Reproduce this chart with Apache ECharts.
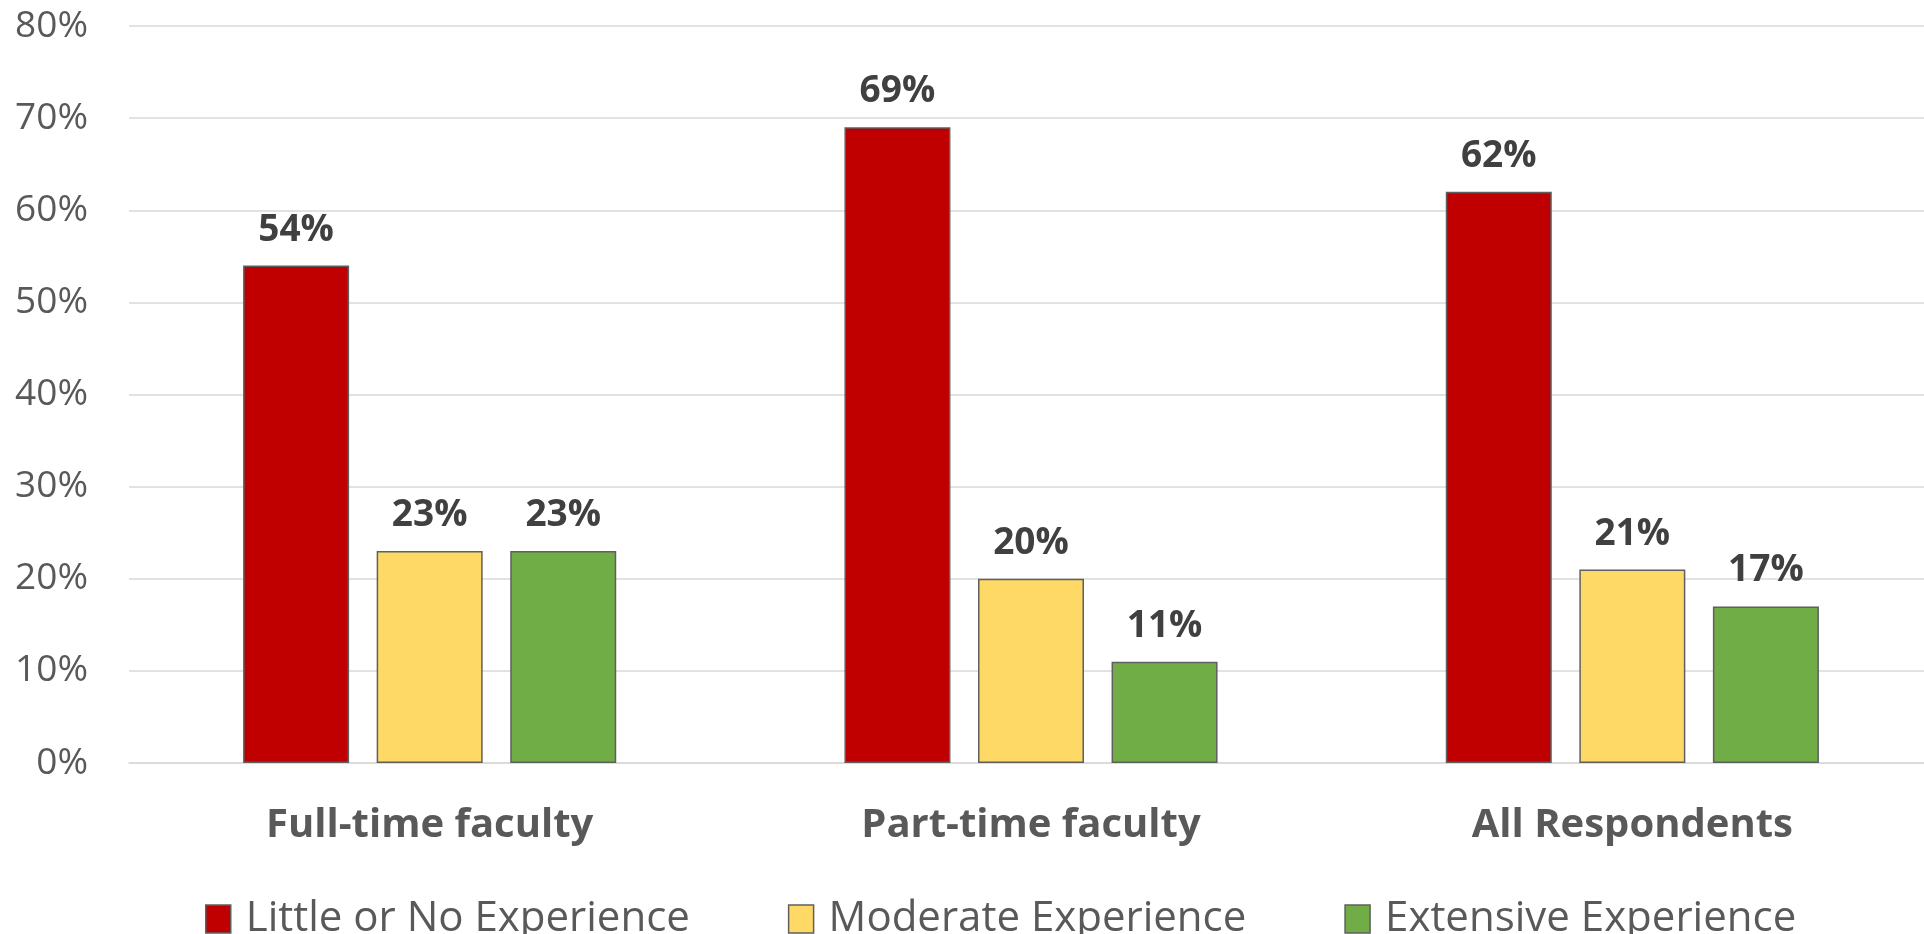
<!DOCTYPE html>
<html>
<head>
<meta charset="utf-8">
<script src="https://cdn.jsdelivr.net/npm/echarts@6/dist/echarts.min.js"></script>
<style>
  html, body { margin: 0; padding: 0; background: #fff; }
  #chart { width: 1924px; height: 934px; }
</style>
</head>
<body>
<div id="chart"></div>
<script>
var categories = ['Full-time faculty', 'Part-time faculty', 'All Respondents'];
var seriesNames = ['Little or No Experience', 'Moderate Experience', 'Extensive Experience'];
var littleData = [54, 69, 62];
var moderateData = [23, 20, 21];
var extensiveData = [23, 11, 17];
var colors = ['#C00000', '#FFD966', '#70AD47'];

var fontFamily = '"Open Sans", Lato, "Noto Sans", sans-serif';

function makeSeries(name, data, color) {
    return {
        name: name,
        type: 'bar',
        barWidth: 106,
        barGap: '26%',
        data: data,
        itemStyle: {
            color: color,
            borderColor: '#5f5f5f',
            borderWidth: 1.5
        },
        label: {
            show: true,
            position: 'top',
            distance: 17,
            formatter: '{c}%',
            color: '#404040',
            fontFamily: fontFamily,
            fontWeight: 'bold',
            fontSize: 37
        }
    };
}

var option = {
    backgroundColor: '#fff',
    animation: false,
    grid: {
        left: 129,
        width: 1804,
        top: 26,
        bottom: 171,
        outerBoundsMode: 'none'
    },
    legend: {
        data: seriesNames,
        left: 200,
        top: 893,
        itemWidth: 25,
        itemHeight: 28,
        itemGap: 98,
        icon: 'rect',
        itemStyle: { borderColor: '#5f5f5f', borderWidth: 1.5 },
        textStyle: {
            color: '#595959',
            fontFamily: fontFamily,
            fontSize: 42,
            padding: [0, 0, 0, 10]
        }
    },
    xAxis: {
        type: 'category',
        data: categories,
        axisLine: { show: true, lineStyle: { color: '#d9d9d9', width: 1.5 } },
        axisTick: { show: false },
        axisLabel: {
            margin: 43,
            color: '#595959',
            fontFamily: fontFamily,
            fontWeight: 'bold',
            fontSize: 40
        }
    },
    yAxis: {
        type: 'value',
        min: 0,
        max: 80,
        interval: 10,
        axisLine: { show: false },
        axisTick: { show: false },
        splitLine: { lineStyle: { color: '#d9d9d9', width: 1.5 } },
        axisLabel: {
            margin: 41,
            formatter: '{value}%',
            color: '#595959',
            fontFamily: fontFamily,
            fontSize: 37
        }
    },
    series: [
        makeSeries(seriesNames[0], littleData, colors[0]),
        makeSeries(seriesNames[1], moderateData, colors[1]),
        makeSeries(seriesNames[2], extensiveData, colors[2])
    ]
};

var chart = echarts.init(document.getElementById('chart'));
chart.setOption(option);
</script>
</body>
</html>
